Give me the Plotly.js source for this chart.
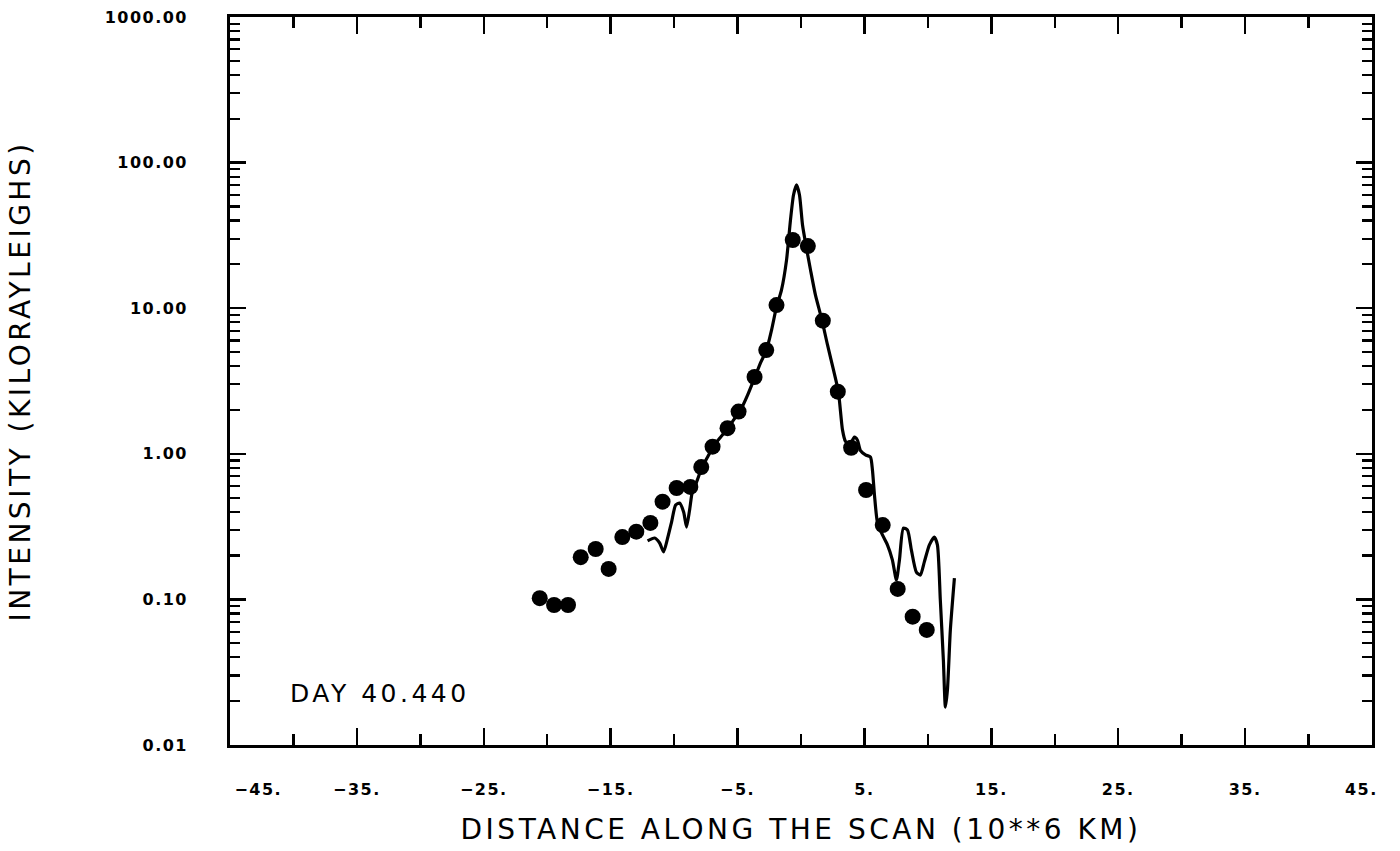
<!DOCTYPE html>
<html>
<head>
<meta charset="utf-8">
<script src="https://cdn.plot.ly/plotly-3.0.1.min.js"></script>
<style>
  html, body { margin: 0; padding: 0; background: #fff; }
  #chart { width: 1400px; height: 851px; }
  .xtitle, .ytitle, .annotation-text { letter-spacing: 3.5px; }
  .xtick text, .ytick text { letter-spacing: 1.5px; }
</style>
</head>
<body>
<div id="chart"></div>
<script>
// Observed data points (filled dots)
const dotX = [-20.59, -19.46, -18.36, -17.36, -16.18, -15.16, -14.08, -12.98, -11.87, -10.91,
              -9.80, -8.72, -7.86, -6.97, -5.79, -4.92, -3.66, -2.74, -1.93, -0.65,
              0.54, 1.72, 2.90, 3.95, 5.13, 6.44, 7.62, 8.80, 9.91];
const dotY = [0.102, 0.0915, 0.0915, 0.195, 0.222, 0.162, 0.268, 0.292, 0.335, 0.469,
              0.582, 0.592, 0.811, 1.12, 1.50, 1.95, 3.37, 5.16, 10.5, 29.4,
              26.7, 8.21, 2.67, 1.10, 0.564, 0.324, 0.118, 0.0761, 0.0617];

// Model curve (solid line)
const lineX = [-12.09, -11.54, -11.14, -10.83, -10.51, -10.20, -9.88, -9.57, -9.25, -9.02,
               -8.78, -8.54, -8.23, -7.83, -7.36, -6.89, -6.34, -5.79, -5.31, -4.76,
               -4.21, -3.66, -3.19, -2.72, -2.32, -1.93, -1.54, -1.14, -0.83, -0.59,
               -0.35, -0.12, 0.12, 0.43, 0.75, 1.14, 1.61, 2.09, 2.56, 2.95,
               3.27, 3.50, 3.82, 4.21, 4.45, 4.69, 5.08, 5.47, 5.63, 5.79,
               6.02, 6.42, 6.81, 7.20, 7.52, 7.76, 8.07, 8.39, 8.70, 9.09,
               9.41, 9.72, 10.12, 10.51, 10.75, 10.98, 11.22, 11.38, 11.54, 11.77, 12.09];
const lineY = [0.252, 0.264, 0.244, 0.212, 0.264, 0.340, 0.445, 0.459, 0.398, 0.314,
               0.411, 0.564, 0.640, 0.798, 0.951, 1.13, 1.30, 1.48, 1.71, 2.00,
               2.53, 3.32, 4.21, 5.16, 7.08, 10.2, 13.3, 21.4, 40.3, 59.9,
               70.2, 59.9, 37.3, 25.9, 18.3, 12.3, 8.57, 5.59, 3.77, 2.66,
               1.46, 1.22, 1.15, 1.30, 1.24, 1.05, 0.982, 0.951, 0.774, 0.521,
               0.340, 0.277, 0.237, 0.187, 0.136, 0.187, 0.309, 0.300, 0.218, 0.154,
               0.147, 0.181, 0.237, 0.268, 0.237, 0.099, 0.0384, 0.0182, 0.0239, 0.0617, 0.140];

// Tick labels
const NB = '\u00a0';
const xTickVals = [-45, -35, -25, -15, -5, 5, 15, 25, 35, 45];
const xTickText = [NB.repeat(8) + '\u221245.', '\u221235.', '\u221225.', '\u221215.', '\u22125.',
                   '5.', '15.', '25.', '35.', '45.' + NB.repeat(3)];
const yTickVals = [0.01, 0.1, 1, 10, 100, 1000];
const yTickText = ['0.01', '0.10', '1.00', '10.00', '100.00', '1000.00'];

const xTitle = 'DISTANCE ALONG THE SCAN (10**6 KM)';
const yTitle = 'INTENSITY (KILORAYLEIGHS)';
const dayLabel = 'DAY 40.440';

const traces = [
  {
    x: lineX, y: lineY, type: 'scatter', mode: 'lines',
    line: { color: '#000', width: 3.2, shape: 'spline', smoothing: 0.6 },
    hoverinfo: 'skip', showlegend: false
  },
  {
    x: dotX, y: dotY, type: 'scatter', mode: 'markers',
    marker: { color: '#000', size: 16, symbol: 'circle' },
    showlegend: false
  }
];

const tickFont = { family: 'DejaVu Sans', size: 16, color: '#000', weight: 'bold' };
const titleFont = { family: 'DejaVu Sans', size: 28, color: '#000' };

const layout = {
  width: 1400, height: 851,
  margin: { l: 230, r: 28, t: 17, b: 106, pad: 0 },
  paper_bgcolor: '#fff', plot_bgcolor: '#fff',
  showlegend: false,
  xaxis: {
    range: [-45, 45],
    tickmode: 'array', tickvals: xTickVals, ticktext: xTickText,
    ticks: 'inside', ticklen: 17, tickwidth: 2.5, tickcolor: '#000',
    minor: { tickmode: 'linear', tick0: -45, dtick: 5, ticks: 'inside', ticklen: 11, tickwidth: 2.5, tickcolor: '#000', showgrid: false },
    showline: true, linewidth: 2.8, linecolor: '#000', mirror: 'ticks',
    showgrid: false, zeroline: false,
    tickfont: tickFont, ticklabelstandoff: 28,
    title: { text: xTitle, font: titleFont, standoff: 22 },
    automargin: false
  },
  yaxis: {
    type: 'log', range: [-2, 3],
    tickmode: 'array', tickvals: yTickVals, ticktext: yTickText,
    ticks: 'inside', ticklen: 16, tickwidth: 2.5, tickcolor: '#000',
    minor: { dtick: 'D1', ticks: 'inside', ticklen: 10, tickwidth: 2.2, tickcolor: '#000', showgrid: false },
    showline: true, linewidth: 2.8, linecolor: '#000', mirror: 'ticks',
    showgrid: false, zeroline: false,
    tickfont: tickFont, ticklabelstandoff: 36,
    title: { text: yTitle, font: titleFont, standoff: 66 },
    automargin: false
  },
  annotations: [
    {
      text: dayLabel, xref: 'paper', yref: 'paper', x: 0.0508, y: 0.0714,
      xanchor: 'left', yanchor: 'middle', showarrow: false,
      font: { family: 'DejaVu Sans', size: 25, color: '#000' }
    }
  ]
};

Plotly.newPlot('chart', traces, layout, { displayModeBar: false, staticPlot: true });
</script>
</body>
</html>
